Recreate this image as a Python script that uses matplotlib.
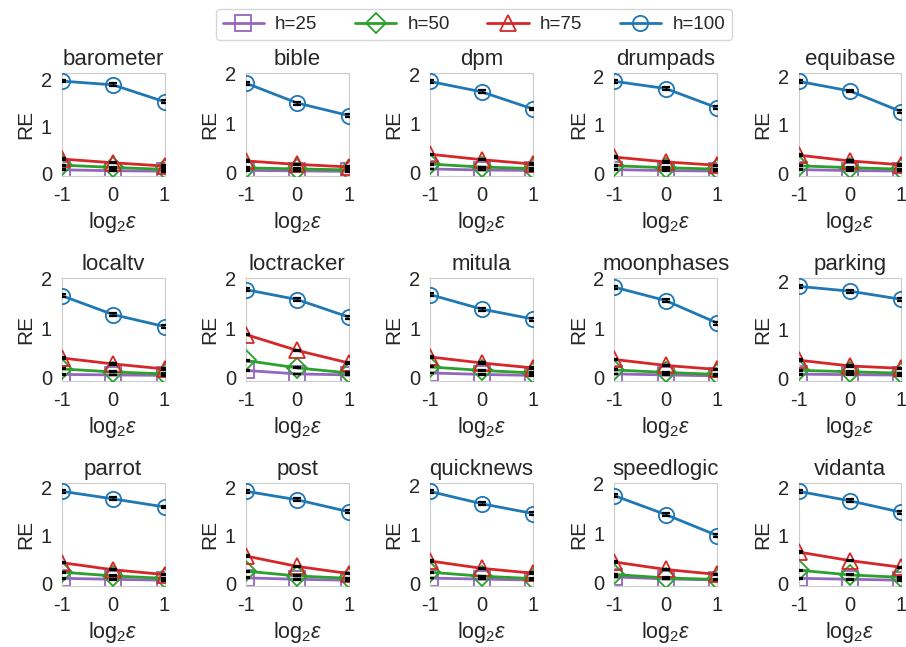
"""RE vs privacy budget (log2 eps) per dataset, four window sizes h."""
import matplotlib
matplotlib.use("Agg")
import matplotlib.pyplot as plt
import seaborn as sns

sns.set_style("whitegrid")
plt.rcParams["font.family"] = ["Liberation Sans", "DejaVu Sans"]
plt.rcParams["mathtext.fontset"] = "custom"
plt.rcParams["mathtext.rm"] = "Liberation Sans"
plt.rcParams["mathtext.it"] = "Liberation Sans:italic"

LOG_EPS = [-1, 0, 1]
H_LABELS = ["h=25", "h=50", "h=75", "h=100"]
DATASETS = ["barometer", "bible", "dpm", "drumpads", "equibase",
            "localtv", "loctracker", "mitula", "moonphases", "parking",
            "parrot", "post", "quicknews", "speedlogic", "vidanta"]

# RE per dataset, one list per h (25, 50, 75, 100)
RE_H25 = [[0.07, 0.05, 0.04], [0.05, 0.04, 0.03], [0.08, 0.06, 0.05], [0.07, 0.05, 0.04], [0.07, 0.05, 0.04],
          [0.07, 0.06, 0.05], [0.15, 0.08, 0.06], [0.10, 0.07, 0.05], [0.08, 0.06, 0.04], [0.08, 0.07, 0.06],
          [0.10, 0.08, 0.06], [0.11, 0.08, 0.06], [0.10, 0.08, 0.06], [0.12, 0.08, 0.06], [0.10, 0.08, 0.06]]
RE_H50 = [[0.17, 0.12, 0.08], [0.10, 0.08, 0.06], [0.18, 0.12, 0.09], [0.15, 0.11, 0.08], [0.15, 0.11, 0.08],
          [0.18, 0.12, 0.08], [0.35, 0.20, 0.10], [0.22, 0.15, 0.10], [0.16, 0.11, 0.07], [0.16, 0.13, 0.10],
          [0.23, 0.15, 0.10], [0.25, 0.15, 0.10], [0.22, 0.14, 0.09], [0.17, 0.10, 0.07], [0.27, 0.17, 0.12]]
RE_H75 = [[0.30, 0.22, 0.15], [0.24, 0.17, 0.12], [0.38, 0.27, 0.18], [0.33, 0.23, 0.16], [0.37, 0.25, 0.17],
          [0.40, 0.28, 0.18], [0.87, 0.55, 0.30], [0.42, 0.30, 0.20], [0.37, 0.25, 0.17], [0.37, 0.25, 0.20],
          [0.43, 0.28, 0.18], [0.57, 0.35, 0.20], [0.45, 0.30, 0.20], [0.42, 0.27, 0.17], [0.65, 0.47, 0.33]]
RE_H100 = [[1.96, 1.88, 1.52], [1.80, 1.40, 1.15], [1.86, 1.65, 1.30], [1.90, 1.75, 1.35], [1.90, 1.70, 1.27],
           [1.65, 1.27, 1.03], [1.77, 1.57, 1.22], [1.67, 1.38, 1.18], [1.82, 1.55, 1.10], [1.90, 1.80, 1.63],
           [1.93, 1.77, 1.60], [1.93, 1.75, 1.50], [1.87, 1.62, 1.42], [1.75, 1.37, 0.95], [1.92, 1.72, 1.48]]
# std of RE, one value per h
ERR = [0.008, 0.01, 0.015, 0.03]

SERIES = [RE_H25, RE_H50, RE_H75, RE_H100]
COLORS = ["#9467bd", "#2ca02c", "#d62728", "#1f77b4"]
MARKERS = ["s", "D", "^", "o"]
MSIZE = [11, 10, 11, 11]

fig, axes = plt.subplots(3, 5, figsize=(9.06, 6.47), dpi=100)
plt.subplots_adjust(left=0.068, right=0.995, top=0.887, bottom=0.094,
                    wspace=0.79, hspace=0.99)

handles = []
for k, (ax, name) in enumerate(zip(axes.flat, DATASETS)):
    for s, series in enumerate(SERIES):
        ln, = ax.plot(LOG_EPS, series[k], color=COLORS[s], marker=MARKERS[s],
                      markersize=MSIZE[s], markerfacecolor="none",
                      markeredgewidth=1.3, linewidth=2, label=H_LABELS[s], zorder=2 + s)
        ax.errorbar(LOG_EPS, series[k], yerr=ERR[s], fmt="none", ecolor="black",
                    elinewidth=1.0, capsize=3, capthick=1.6, zorder=10)
        if k == 0:
            handles.append(ln)
    ax.grid(False)
    for sp in ax.spines.values():
        sp.set_color("#cccccc")
    ax.set_xlim(-1, 1)
    ax.set_ylim(-0.065, max(RE_H100[k]) + 0.17)
    ax.set_xticks([-1, 0, 1])
    ax.set_xticklabels(["-1", "0", "1"])
    ax.set_yticks([0, 1, 2])
    ax.tick_params(labelsize=14.5, colors="#262626")
    ax.set_title(name, fontsize=16, color="#262626")
    ax.set_ylabel("RE", fontsize=15, color="#262626")
    ax.set_xlabel(r"log$_2\varepsilon$", fontsize=15.5, color="#262626")

fig.legend(handles=handles, labels=H_LABELS, loc="upper center", ncol=4,
           bbox_to_anchor=(0.523, 1.0), fontsize=13.5, frameon=True,
           handlelength=2.2, handletextpad=0.6, columnspacing=2.0, borderpad=0.35)

plt.savefig("out.png", dpi=100)
plt.close()
